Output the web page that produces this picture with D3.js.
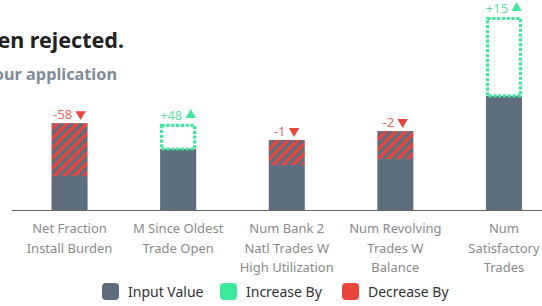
<!DOCTYPE html>
<html>
<head>
  <meta charset="utf-8">
  <script src="https://d3js.org/d3.v7.min.js"></script>
  <style>
    body { margin: 0; background: #fff; font-family: "Noto Sans", "Open Sans", sans-serif; }
    svg { display: block; }
  </style>
</head>
<body>
  <svg id="chart" width="542" height="306"></svg>
  <script>
    // data (values scaled 0..1 per feature)
    const features = [
      "Net Fraction Install Burden",
      "M Since Oldest Trade Open",
      "Num Bank 2 Natl Trades W High Utilization",
      "Num Revolving Trades W Balance",
      "Num Satisfactory Trades"
    ];
    const tickLines = [
      ["Net Fraction", "Install Burden"],
      ["M Since Oldest", "Trade Open"],
      ["Num Bank 2", "Natl Trades W", "High Utilization"],
      ["Num Revolving", "Trades W", "Balance"],
      ["Num", "Satisfactory", "Trades"]
    ];
    const inputValues = [0.45, 0.316, 0.363, 0.409, 0.591];
    const suggestedValues = [0.176, 0.446, 0.233, 0.264, 1.0];
    const changeLabels = ["-58", "+48", "-1", "-2", "+15"];
    const legendItems = ["Input Value", "Increase By", "Decrease By"];

    const GRAY = "#5e6d7d";
    const GREEN = "#3ee89c";
    const RED = "#e8453c";

    const svg = d3.select("#chart");
    const defs = svg.append("defs");

    // hatch for decreases
    const pat = defs.append("pattern")
      .attr("id", "hatch")
      .attr("patternUnits", "userSpaceOnUse")
      .attr("width", 7)
      .attr("height", 7)
      .attr("patternTransform", "rotate(45)");
    pat.append("rect").attr("width", 7).attr("height", 7).attr("fill", GRAY);
    pat.append("rect").attr("width", 3.5).attr("height", 7).attr("fill", RED);

    // title (cut off on the left, like the reference)
    svg.append("text")
      .attr("x", 124).attr("y", 48)
      .attr("text-anchor", "end")
      .attr("font-size", 21.5).attr("font-weight", 700)
      .attr("fill", "#222")
      .text("Your loan application has been rejected.");
    svg.append("text")
      .attr("x", 117).attr("y", 80)
      .attr("text-anchor", "end")
      .attr("font-size", 16.3).attr("font-weight", 700)
      .attr("fill", "#7f8c99")
      .text("Here is what could change your application");

    const x = d3.scaleBand()
      .domain(features)
      .range([12, 561.5])
      .paddingInner(0.668)
      .paddingOuter(0.364);

    const y = d3.scaleLinear()
      .domain([0, 1])
      .range([210, 17]);

    const rows = features.map((f, i) => ({
      f,
      input: inputValues[i],
      sugg: suggestedValues[i],
      label: changeLabels[i],
      lines: tickLines[i]
    }));

    const g = svg.append("g");

    // gray base
    g.selectAll("rect.base")
      .data(rows)
      .join("rect")
      .attr("class", "base")
      .attr("x", d => x(d.f))
      .attr("width", x.bandwidth())
      .attr("y", d => y(Math.min(d.input, d.sugg)))
      .attr("height", d => y(0) - y(Math.min(d.input, d.sugg)))
      .attr("fill", GRAY);

    // decreases: hatched
    g.selectAll("rect.dec")
      .data(rows.filter(d => d.sugg < d.input))
      .join("rect")
      .attr("class", "dec")
      .attr("x", d => x(d.f))
      .attr("width", x.bandwidth())
      .attr("y", d => y(d.input))
      .attr("height", d => y(d.sugg) - y(d.input))
      .attr("fill", "url(#hatch)");

    // increases: dotted outline
    g.selectAll("rect.inc")
      .data(rows.filter(d => d.sugg > d.input))
      .join("rect")
      .attr("class", "inc")
      .attr("x", d => x(d.f) + 1.5)
      .attr("width", x.bandwidth() - 3)
      .attr("y", d => y(d.sugg) + 1.5)
      .attr("height", d => y(d.input) - y(d.sugg) - 1.5)
      .attr("fill", "none")
      .attr("stroke", GREEN)
      .attr("stroke-width", 3.2)
      .attr("stroke-dasharray", "3.2,1.6");

    // change labels with arrow
    const lab = g.selectAll("g.lab")
      .data(rows)
      .join("g")
      .attr("class", "lab");
    lab.each(function (d) {
      const up = d.sugg > d.input;
      const col = up ? "#5fe0a8" : "#e8665d";
      const top = y(Math.max(d.input, d.sugg));
      const cx = x(d.f) + x.bandwidth() / 2;
      const sel = d3.select(this);
      const t = sel.append("text")
        .attr("y", top - 4)
        .attr("font-size", 13)
        .attr("fill", col)
        .text(d.label);
      const w = t.node().getComputedTextLength();
      const total = w + 3 + 11;
      const x0 = cx - total / 2;
      t.attr("x", x0);
      sel.append("path")
        .attr("d", d3.symbol(d3.symbolTriangle, 46)())
        .attr("transform", `translate(${x0 + w + 8.5},${top - 9}) rotate(${up ? 0 : 180})`)
        .attr("fill", up ? GREEN : RED);
    });

    // axis line
    svg.append("line")
      .attr("x1", 12).attr("x2", 542)
      .attr("y1", y(0) + 0.5).attr("y2", y(0) + 0.5)
      .attr("stroke", "#666").attr("stroke-width", 1.2);

    // tick labels
    const ticks = svg.selectAll("text.tick")
      .data(rows)
      .join("text")
      .attr("class", "tick")
      .attr("text-anchor", "middle")
      .attr("font-size", 13)
      .attr("fill", "#8a8a8a");
    ticks.each(function (d) {
      const cx = x(d.f) + x.bandwidth() / 2;
      d3.select(this).selectAll("tspan")
        .data(d.lines)
        .join("tspan")
        .attr("x", cx)
        .attr("y", (l, i) => 233 + i * 19.5)
        .text(l => l);
    });

    // legend
    const legColors = [GRAY, GREEN, RED];
    const legX = [102, 220, 342];
    const leg = svg.selectAll("g.leg")
      .data(legendItems)
      .join("g")
      .attr("class", "leg")
      .attr("transform", (d, i) => `translate(${legX[i]},283)`);
    leg.append("rect")
      .attr("width", 17).attr("height", 17)
      .attr("rx", 4)
      .attr("fill", (d, i) => legColors[i]);
    leg.append("text")
      .attr("x", 26).attr("y", 14)
      .attr("font-size", 14)
      .attr("fill", "#333")
      .text(d => d);
  </script>
</body>
</html>
